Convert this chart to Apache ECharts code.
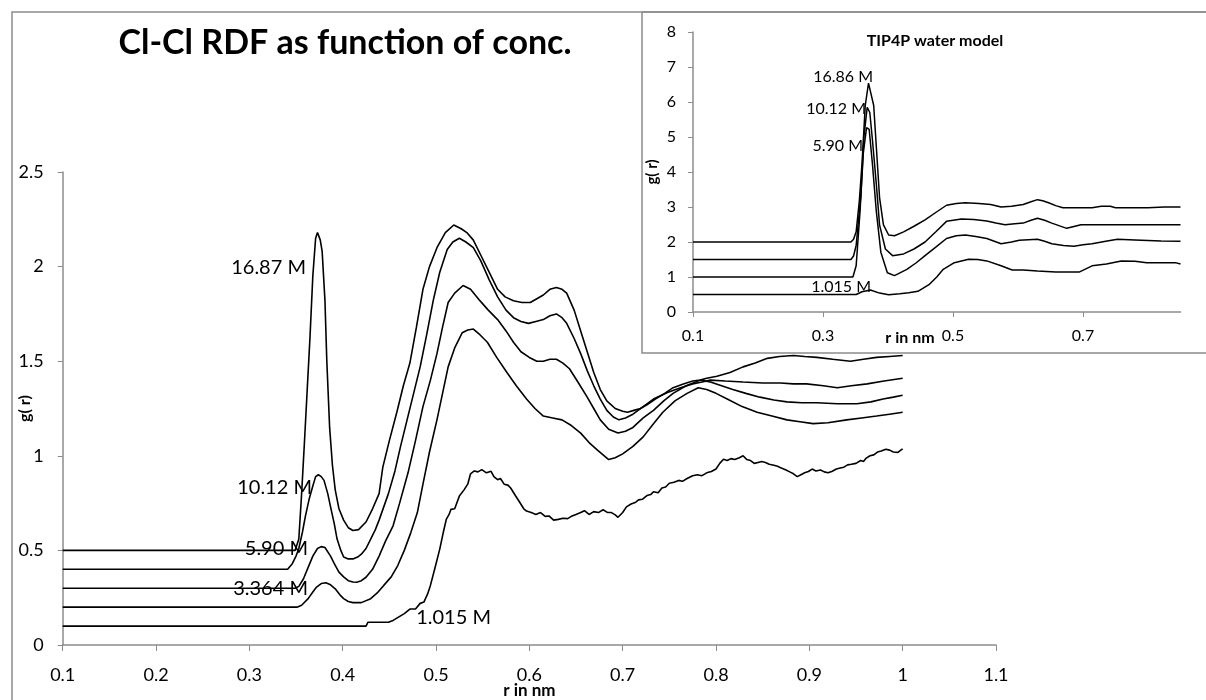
<!DOCTYPE html>
<html lang="en">
  <head>
    <meta charset="UTF-8" />
    <title>Cl-Cl RDF</title>
    <script src="https://cdn.jsdelivr.net/npm/echarts@6/dist/echarts.min.js"></script>
    <style>
      html, body { margin: 0; padding: 0; background: #fff; }
    </style>
  </head>

  <body>
    <div id="main" style="width: 1206px; height: 700px"></div>

    <script type="text/javascript">
      // main chart: Cl-Cl g(r), curves shifted by 0.1 each
      var mainNames = ["16.87 M", "10.12 M", "5.90 M", "3.364 M", "1.015 M"];
      var mainXTicks = { min: 0.1, max: 1.1, step: 0.1 };
      var mainYTicks = { min: 0, max: 2.5, step: 0.5 };

      var main1687 = [[0.1,0.5],[0.349,0.5],[0.353,0.56],[0.356,0.8],[0.359,1.07],[0.362,1.35],[0.365,1.63],[0.368,1.95],[0.371,2.15],[0.373,2.18],[0.376,2.14],[0.378,2.08],[0.381,1.82],[0.383,1.5],[0.386,1.15],[0.389,0.95],[0.392,0.82],[0.396,0.72],[0.401,0.66],[0.406,0.62],[0.411,0.605],[0.417,0.61],[0.425,0.65],[0.432,0.72],[0.439,0.8],[0.443,0.94],[0.45,1.08],[0.458,1.23],[0.465,1.37],[0.472,1.49],[0.479,1.68],[0.486,1.88],[0.493,2.0],[0.501,2.1],[0.51,2.18],[0.519,2.22],[0.527,2.2],[0.533,2.18],[0.54,2.14],[0.548,2.06],[0.556,1.98],[0.566,1.88],[0.574,1.84],[0.583,1.82],[0.592,1.81],[0.601,1.81],[0.608,1.83],[0.615,1.85],[0.622,1.88],[0.629,1.89],[0.635,1.88],[0.64,1.86],[0.648,1.77],[0.655,1.66],[0.662,1.55],[0.669,1.44],[0.676,1.35],[0.683,1.29],[0.692,1.25],[0.7,1.235],[0.705,1.23],[0.712,1.24],[0.719,1.25],[0.726,1.27],[0.735,1.3],[0.745,1.33],[0.754,1.36],[0.765,1.38],[0.775,1.395],[0.783,1.4],[0.79,1.41],[0.801,1.42],[0.815,1.44],[0.829,1.47],[0.842,1.49],[0.855,1.515],[0.868,1.525],[0.883,1.53],[0.895,1.525],[0.908,1.52],[0.925,1.51],[0.944,1.5],[0.958,1.51],[0.972,1.52],[0.986,1.525],[1.0,1.53]];
      var main1012 = [[0.1,0.4],[0.341,0.4],[0.346,0.43],[0.35,0.47],[0.353,0.51],[0.357,0.6],[0.36,0.68],[0.364,0.77],[0.368,0.84],[0.371,0.89],[0.374,0.9],[0.377,0.89],[0.38,0.87],[0.384,0.8],[0.387,0.73],[0.391,0.64],[0.394,0.56],[0.398,0.5],[0.401,0.465],[0.406,0.455],[0.411,0.455],[0.416,0.465],[0.42,0.48],[0.425,0.51],[0.43,0.56],[0.435,0.61],[0.439,0.66],[0.444,0.73],[0.449,0.8],[0.456,0.92],[0.462,1.05],[0.469,1.19],[0.476,1.33],[0.483,1.47],[0.49,1.64],[0.497,1.82],[0.504,1.97],[0.512,2.09],[0.518,2.13],[0.525,2.15],[0.532,2.13],[0.54,2.1],[0.548,2.03],[0.557,1.93],[0.566,1.84],[0.575,1.77],[0.583,1.73],[0.591,1.71],[0.599,1.7],[0.607,1.71],[0.615,1.72],[0.622,1.74],[0.629,1.75],[0.635,1.73],[0.64,1.7],[0.648,1.62],[0.655,1.54],[0.662,1.45],[0.669,1.37],[0.676,1.3],[0.683,1.24],[0.69,1.205],[0.696,1.19],[0.703,1.2],[0.711,1.22],[0.722,1.26],[0.733,1.3],[0.748,1.335],[0.762,1.36],[0.775,1.38],[0.785,1.39],[0.794,1.4],[0.81,1.395],[0.829,1.39],[0.85,1.385],[0.869,1.385],[0.883,1.38],[0.897,1.38],[0.915,1.37],[0.93,1.36],[0.945,1.37],[0.962,1.38],[0.98,1.395],[1.0,1.41]];
      var main590 = [[0.1,0.3],[0.349,0.3],[0.353,0.31],[0.358,0.35],[0.363,0.41],[0.368,0.47],[0.373,0.51],[0.377,0.52],[0.381,0.515],[0.387,0.47],[0.391,0.43],[0.396,0.385],[0.401,0.36],[0.406,0.34],[0.411,0.333],[0.415,0.332],[0.42,0.34],[0.425,0.358],[0.432,0.4],[0.439,0.47],[0.446,0.55],[0.454,0.63],[0.461,0.75],[0.47,0.91],[0.478,1.08],[0.486,1.26],[0.494,1.4],[0.501,1.54],[0.507,1.68],[0.513,1.81],[0.52,1.86],[0.529,1.9],[0.537,1.88],[0.547,1.82],[0.556,1.77],[0.566,1.72],[0.575,1.66],[0.583,1.6],[0.591,1.55],[0.6,1.52],[0.608,1.5],[0.615,1.5],[0.622,1.51],[0.629,1.51],[0.636,1.49],[0.643,1.46],[0.652,1.39],[0.662,1.31],[0.669,1.25],[0.676,1.19],[0.685,1.14],[0.695,1.12],[0.703,1.13],[0.711,1.15],[0.722,1.2],[0.733,1.24],[0.744,1.29],[0.754,1.33],[0.768,1.37],[0.783,1.4],[0.794,1.39],[0.806,1.37],[0.818,1.35],[0.832,1.33],[0.847,1.31],[0.862,1.295],[0.876,1.285],[0.892,1.28],[0.908,1.28],[0.93,1.275],[0.951,1.275],[0.966,1.285],[0.979,1.3],[0.99,1.31],[1.0,1.32]];
      var main3364 = [[0.1,0.2],[0.351,0.2],[0.356,0.21],[0.363,0.245],[0.368,0.28],[0.372,0.306],[0.377,0.325],[0.382,0.329],[0.387,0.318],[0.392,0.297],[0.397,0.265],[0.401,0.245],[0.406,0.23],[0.411,0.224],[0.42,0.224],[0.43,0.245],[0.437,0.275],[0.444,0.315],[0.452,0.36],[0.459,0.42],[0.466,0.5],[0.473,0.594],[0.48,0.7],[0.486,0.85],[0.493,1.02],[0.501,1.19],[0.507,1.33],[0.513,1.47],[0.52,1.57],[0.528,1.65],[0.534,1.665],[0.54,1.67],[0.547,1.64],[0.555,1.6],[0.565,1.52],[0.576,1.44],[0.586,1.37],[0.597,1.3],[0.606,1.25],[0.615,1.21],[0.625,1.2],[0.635,1.19],[0.645,1.16],[0.655,1.12],[0.664,1.07],[0.673,1.03],[0.685,0.98],[0.692,0.99],[0.7,1.01],[0.711,1.05],[0.722,1.1],[0.733,1.17],[0.743,1.23],[0.756,1.29],[0.769,1.33],[0.781,1.36],[0.79,1.35],[0.8,1.33],[0.812,1.3],[0.828,1.26],[0.844,1.23],[0.86,1.21],[0.876,1.19],[0.89,1.18],[0.904,1.17],[0.92,1.175],[0.94,1.19],[0.956,1.2],[0.972,1.21],[0.986,1.22],[1.0,1.23]];
      var main1015 = [[0.1,0.1],[0.425,0.1],[0.427,0.12],[0.449,0.12],[0.454,0.13],[0.466,0.166],[0.472,0.19],[0.478,0.19],[0.483,0.22],[0.487,0.227],[0.491,0.27],[0.494,0.315],[0.499,0.41],[0.504,0.507],[0.508,0.6],[0.511,0.664],[0.514,0.69],[0.516,0.717],[0.52,0.72],[0.525,0.787],[0.53,0.82],[0.534,0.85],[0.537,0.905],[0.541,0.92],[0.545,0.915],[0.549,0.927],[0.554,0.91],[0.559,0.918],[0.562,0.89],[0.566,0.874],[0.569,0.88],[0.573,0.85],[0.577,0.845],[0.58,0.83],[0.585,0.79],[0.59,0.752],[0.594,0.72],[0.597,0.708],[0.602,0.7],[0.607,0.69],[0.612,0.7],[0.617,0.68],[0.621,0.682],[0.626,0.66],[0.631,0.664],[0.636,0.67],[0.641,0.668],[0.645,0.68],[0.65,0.69],[0.655,0.7],[0.659,0.71],[0.664,0.69],[0.669,0.705],[0.674,0.7],[0.679,0.715],[0.684,0.7],[0.688,0.7],[0.692,0.688],[0.695,0.675],[0.7,0.7],[0.704,0.73],[0.709,0.745],[0.714,0.755],[0.717,0.767],[0.721,0.77],[0.726,0.79],[0.73,0.795],[0.733,0.81],[0.738,0.805],[0.742,0.83],[0.746,0.835],[0.75,0.855],[0.755,0.86],[0.76,0.87],[0.764,0.865],[0.769,0.88],[0.775,0.895],[0.78,0.9],[0.785,0.895],[0.79,0.91],[0.795,0.917],[0.8,0.93],[0.804,0.96],[0.808,0.982],[0.812,0.975],[0.816,0.985],[0.82,0.98],[0.825,0.99],[0.829,1.0],[0.833,0.98],[0.837,0.975],[0.841,0.96],[0.845,0.965],[0.849,0.97],[0.853,0.965],[0.857,0.955],[0.862,0.95],[0.866,0.945],[0.87,0.935],[0.875,0.925],[0.879,0.915],[0.883,0.905],[0.887,0.89],[0.891,0.9],[0.895,0.91],[0.899,0.917],[0.903,0.93],[0.907,0.92],[0.912,0.925],[0.916,0.915],[0.92,0.91],[0.924,0.917],[0.929,0.93],[0.933,0.935],[0.937,0.94],[0.941,0.952],[0.945,0.955],[0.95,0.96],[0.955,0.975],[0.958,0.97],[0.961,0.988],[0.965,1.0],[0.969,1.005],[0.973,1.02],[0.977,1.025],[0.982,1.035],[0.986,1.03],[0.99,1.02],[0.995,1.018],[0.998,1.03],[1.0,1.037]];

      // inset: TIP4P water model, curves shifted by 0.5 each
      var insetNames = ["16.86 M", "10.12 M", "5.90 M", "1.015 M"];
      var insetXTicks = { min: 0.1, max: 0.85, step: 0.2 };
      var insetYTicks = { min: 0, max: 8, step: 1 };

      var inset1686 = [[0.1,2],[0.343,2],[0.347,2.08],[0.351,2.29],[0.356,3.2],[0.36,4.24],[0.365,5.9],[0.37,6.54],[0.373,6.49],[0.378,5.9],[0.382,4.73],[0.387,3.27],[0.393,2.49],[0.401,2.2],[0.41,2.18],[0.424,2.29],[0.44,2.45],[0.457,2.63],[0.474,2.85],[0.49,3.05],[0.505,3.1],[0.519,3.12],[0.54,3.1],[0.558,3.07],[0.574,3.0],[0.59,3.02],[0.608,3.07],[0.62,3.15],[0.63,3.21],[0.638,3.18],[0.647,3.12],[0.658,3.04],[0.669,2.98],[0.69,2.98],[0.714,2.98],[0.728,3.02],[0.742,3.02],[0.75,2.98],[0.8,2.98],[0.825,3.0],[0.85,3.0]];
      var inset1012 = [[0.1,1.5],[0.343,1.5],[0.347,1.6],[0.351,1.9],[0.358,3.27],[0.363,5.02],[0.368,5.85],[0.372,5.7],[0.376,4.93],[0.382,3.66],[0.387,2.49],[0.396,1.8],[0.407,1.61],[0.424,1.66],[0.44,1.8],[0.457,2.0],[0.474,2.3],[0.49,2.59],[0.513,2.66],[0.532,2.64],[0.552,2.6],[0.566,2.54],[0.58,2.49],[0.595,2.52],[0.608,2.54],[0.62,2.62],[0.63,2.68],[0.641,2.62],[0.652,2.54],[0.664,2.46],[0.675,2.39],[0.686,2.44],[0.697,2.49],[0.742,2.49],[0.8,2.49],[0.85,2.49]];
      var inset590 = [[0.1,1.0],[0.346,1.0],[0.351,1.32],[0.357,2.88],[0.362,4.54],[0.367,5.27],[0.371,5.22],[0.376,4.24],[0.382,2.88],[0.389,1.71],[0.399,1.12],[0.41,1.04],[0.429,1.22],[0.443,1.4],[0.457,1.61],[0.474,1.86],[0.49,2.1],[0.505,2.18],[0.519,2.2],[0.535,2.16],[0.552,2.1],[0.574,1.95],[0.59,2.0],[0.602,2.05],[0.63,2.08],[0.641,2.02],[0.652,1.95],[0.67,1.9],[0.686,1.88],[0.7,1.92],[0.714,1.95],[0.735,2.02],[0.753,2.08],[0.78,2.06],[0.82,2.03],[0.85,2.02]];
      var inset1015 = [[0.1,0.5],[0.351,0.5],[0.36,0.58],[0.373,0.63],[0.387,0.54],[0.401,0.49],[0.418,0.52],[0.432,0.55],[0.446,0.59],[0.463,0.78],[0.475,1.0],[0.485,1.22],[0.502,1.41],[0.524,1.51],[0.538,1.5],[0.552,1.46],[0.574,1.32],[0.591,1.2],[0.608,1.2],[0.63,1.17],[0.658,1.14],[0.694,1.14],[0.714,1.32],[0.736,1.37],[0.759,1.46],[0.78,1.45],[0.798,1.41],[0.842,1.41],[0.85,1.37]];

      var myChart = echarts.init(document.getElementById("main"));

      var font = "Lato";
      var axisGrey = "#8c8c8c";

      function lineSeries(data, grid, z) {
        return {
          type: "line",
          data: data,
          xAxisIndex: grid,
          yAxisIndex: grid,
          showSymbol: false,
          smooth: false,
          z: z,
          lineStyle: { color: "#000", width: grid === 0 ? 1.6 : 1.5 },
          emphasis: { disabled: true },
          silent: true,
        };
      }

      function label(text, x, y, size, z) {
        return {
          type: "text",
          x: x,
          y: y,
          z: z,
          silent: true,
          style: {
            text: text,
            fill: "#000",
            font: size + "px " + font,
            align: "right",
            textAlign: "right",
            verticalAlign: "middle",
            textVerticalAlign: "middle",
          },
        };
      }

      var option = {
        animation: false,
        backgroundColor: "#fff",
        title: [
          {
            text: "Cl-Cl RDF as function of conc.",
            left: 340,
            top: 21,
            textAlign: "center",
            textStyle: { fontFamily: font, fontWeight: "bold", fontSize: 34, color: "#000" },
          },
          {
            text: "TIP4P water model",
            left: 930,
            top: 28,
            z: 70,
            textAlign: "center",
            textStyle: { fontFamily: font, fontWeight: "bold", fontSize: 16, color: "#000" },
          },
        ],
        grid: [
          { left: 62.7, right: 210, top: 172, bottom: 55, outerBoundsMode: "none", containLabel: false },
          { left: 693, right: 25.5, top: 32, bottom: 388, outerBoundsMode: "none", containLabel: false, z: 60 },
        ],
        xAxis: [
          {
            type: "value",
            gridIndex: 0,
            min: mainXTicks.min,
            max: mainXTicks.max,
            interval: mainXTicks.step,
            name: "r in nm",
            nameLocation: "middle",
            nameGap: 37,
            nameMoveOverlap: false,
            nameTextStyle: { fontFamily: font, fontWeight: "bold", fontSize: 17, color: "#000" },
            splitLine: { show: false },
            axisLine: { lineStyle: { color: axisGrey, width: 1.5 } },
            axisTick: { inside: false, length: 6, lineStyle: { color: axisGrey } },
            axisLabel: { fontFamily: font, fontSize: 18, color: "#000", margin: 21 },
          },
          {
            type: "value",
            gridIndex: 1,
            min: insetXTicks.min,
            max: insetXTicks.max,
            interval: insetXTicks.step,
            z: 60,
            splitLine: { show: false },
            axisLine: { lineStyle: { color: axisGrey, width: 1.5 } },
            axisTick: { inside: false, length: 5, lineStyle: { color: axisGrey } },
            axisLabel: { fontFamily: font, fontSize: 16, color: "#000", margin: 16, showMaxLabel: false },
          },
        ],
        yAxis: [
          {
            type: "value",
            gridIndex: 0,
            min: mainYTicks.min,
            max: mainYTicks.max,
            interval: mainYTicks.step,
            name: "g( r)",
            nameLocation: "middle",
            nameGap: 30,
            nameRotate: 90,
            nameMoveOverlap: false,
            nameTextStyle: { fontFamily: font, fontWeight: "bold", fontSize: 16, color: "#000" },
            splitLine: { show: false },
            axisLine: { show: true, lineStyle: { color: axisGrey, width: 1.5 } },
            axisTick: { show: true, inside: false, length: 5, lineStyle: { color: axisGrey } },
            axisLabel: { fontFamily: font, fontSize: 18, color: "#000", margin: 19 },
          },
          {
            type: "value",
            gridIndex: 1,
            min: insetYTicks.min,
            max: insetYTicks.max,
            interval: insetYTicks.step,
            z: 60,
            name: "g( r)",
            nameLocation: "middle",
            nameGap: 33,
            nameRotate: 90,
            nameMoveOverlap: false,
            nameTextStyle: { fontFamily: font, fontWeight: "bold", fontSize: 15, color: "#000" },
            splitLine: { show: false },
            axisLine: { show: true, lineStyle: { color: axisGrey, width: 1.5 } },
            axisTick: { show: true, inside: false, length: 5, lineStyle: { color: axisGrey } },
            axisLabel: { fontFamily: font, fontSize: 16, color: "#000", margin: 17 },
          },
        ],
        graphic: [
          // inset box, covers the main plot underneath
          {
            type: "rect",
            z: 50,
            silent: true,
            shape: { x: 642, y: 12, width: 620, height: 341 },
            style: { fill: "#fff", stroke: axisGrey, lineWidth: 1.5 },
          },
          // outer chart border
          {
            type: "rect",
            z: 100,
            silent: true,
            shape: { x: 12, y: 12, width: 1400, height: 900 },
            style: { fill: "none", stroke: axisGrey, lineWidth: 1.5 },
          },
          label(mainNames[0], 306, 268, 20, 10),
          label(mainNames[1], 312, 488, 20, 10),
          label(mainNames[2], 308, 549, 20, 10),
          label(mainNames[3], 308, 589, 20, 10),
          label(mainNames[4], 491, 618, 20, 10),
          label(insetNames[0], 873, 77, 16, 70),
          label(insetNames[1], 866, 109, 16, 70),
          label(insetNames[2], 863, 146, 16, 70),
          label(insetNames[3], 871, 287, 16, 70),
          {
            type: "text",
            x: 910,
            y: 338,
            z: 70,
            silent: true,
            style: {
              text: "r in nm",
              fill: "#000",
              font: "bold 16px " + font,
              align: "center",
              textAlign: "center",
              verticalAlign: "middle",
              textVerticalAlign: "middle",
            },
          },
        ],
        series: [
          lineSeries(main1687, 0, 2),
          lineSeries(main1012, 0, 2),
          lineSeries(main590, 0, 2),
          lineSeries(main3364, 0, 2),
          lineSeries(main1015, 0, 2),
          lineSeries(inset1686, 1, 60),
          lineSeries(inset1012, 1, 60),
          lineSeries(inset590, 1, 60),
          lineSeries(inset1015, 1, 60),
        ],
      };

      myChart.setOption(option);
    </script>
  </body>
</html>
